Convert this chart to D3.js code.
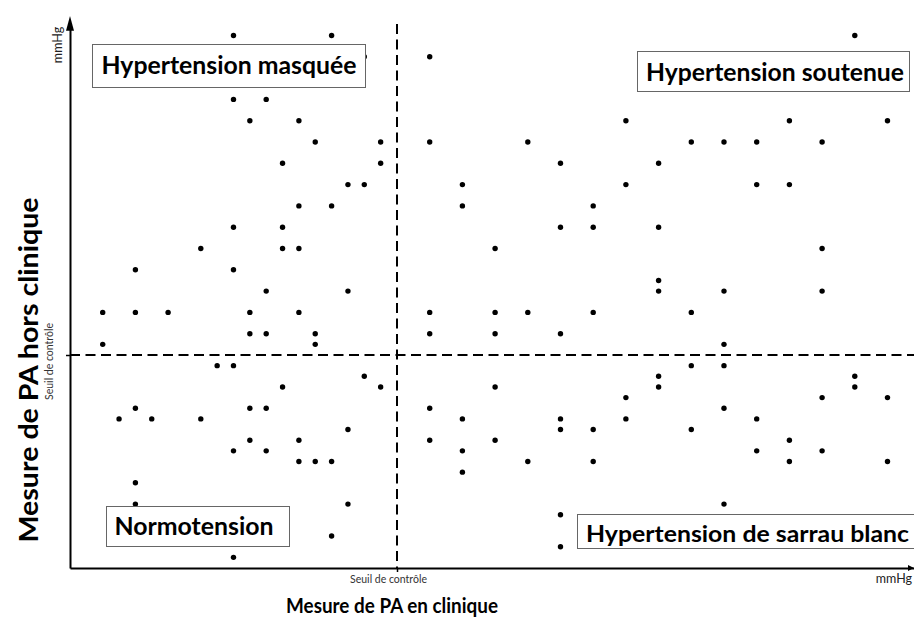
<!DOCTYPE html>
<html>
<head>
<meta charset="utf-8">
<script src="https://cdn.jsdelivr.net/npm/d3@7"></script>
<style>
    body { margin: 0; background: #fff; }
    svg { display: block; }
</style>
</head>
<body>
<div id="chart"></div>
<script>
// grid units: clinic reading (x) and out-of-clinic reading (y)
var clinicValues = [10, 16, 10, 12, 11, 14, 15, 13, 14, 16, 18, 22, 19, 22, 28, 19, 30, 17, 18, 24, 24, 32,
    48, 34, 44, 50, 38, 40, 42, 46, 36, 34, 42, 44,
    10, 13, 8, 13, 14, 4, 10, 12, 2, 4, 6, 11, 14, 11, 12, 15, 2, 15, 9, 10, 13,
    30, 32, 26, 17, 22, 26, 28, 32, 22, 26, 30, 18, 19, 26,
    36, 46, 36, 36, 40, 46, 38, 40, 38, 40, 36, 36, 48, 48,
    4, 11, 12, 3, 5, 8, 11, 14, 10, 12, 14, 15, 16, 4, 4, 16, 10,
    22, 24, 30, 17, 30, 32, 22, 26, 24, 28, 32, 24, 17, 30, 30,
    34, 46, 50, 34, 40, 42, 38, 44, 42, 46, 44, 50, 40];
var homeValues = [30, 30, 24, 24, 22, 22, 20, 18, 14, 14, 28, 28, 20, 20, 20, 18, 18, 16, 16, 16, 14, 14,
    30, 22, 22, 22, 20, 20, 20, 20, 18, 16, 16, 16,
    12, 12, 10, 10, 10, 8, 8, 6, 4, 4, 4, 4, 4, 2, 2, 2, 1, 1, -1, -1, -3,
    12, 12, 10, 6, 4, 4, 4, 4, 2, 2, 2, -2, -3, -3,
    12, 10, 7, 6, 6, 6, 4, 1, -1, -1, -2, -3, -2, -3,
    -5, -5, -5, -6, -6, -6, -8, -8, -9, -9, -10, -10, -10, -12, -14, -17, -19,
    -5, -6, -6, -7, -7, -7, -8, -8, -9, -10, -10, -11, -14, -15, -18,
    -4, -4, -4, -6, -5, -6, -7, -8, -9, -9, -10, -10, -14];

var clinicThreshold = 20;
var homeThreshold = 0;
var xDomain = [0, 52];
var yDomain = [-20, 31];

var quadrantNames = ["Hypertension masquée", "Hypertension soutenue", "Normotension", "Hypertension de sarrau blanc"];
var thresholdLabel = "Seuil de contrôle";
var unitLabel = "mmHg";
var xTitle = "Mesure de PA en clinique";
var yTitle = "Mesure de PA hors clinique";

var width = 914, height = 625;
var left = 70, bottom = 568;

var svg = d3.select("#chart")
    .append("svg")
    .attr("width", width)
    .attr("height", height)
    .style("font-family", "Lato, 'Open Sans', sans-serif");

var x = d3.scaleLinear()
    .domain(xDomain)
    .range([left, left + 52 * 16.35]);

var y = d3.scaleLinear()
    .domain(yDomain)
    .range([bottom, bottom - 51 * 10.65]);

// dashed threshold lines
svg.append("line")
    .attr("x1", x(clinicThreshold)).attr("x2", x(clinicThreshold))
    .attr("y1", 24).attr("y2", bottom)
    .attr("stroke", "#000").attr("stroke-width", 2)
    .attr("stroke-dasharray", "10,5.5");

svg.append("line")
    .attr("x1", left).attr("x2", width)
    .attr("y1", y(homeThreshold)).attr("y2", y(homeThreshold))
    .attr("stroke", "#000").attr("stroke-width", 2)
    .attr("stroke-dasharray", "10,5.5");

// axes
var xAxis = svg.append("g")
    .attr("transform", `translate(0, ${bottom})`)
    .call(d3.axisBottom(x).tickValues([clinicThreshold]).tickFormat(() => thresholdLabel).tickSize(4).tickSizeOuter(0));

xAxis.select(".domain").attr("stroke-width", 2);
xAxis.selectAll(".tick line").attr("stroke-width", 1.5);
xAxis.selectAll(".tick text")
    .attr("y", 8).attr("dx", -9)
    .style("font-family", "Lato, sans-serif")
    .style("font-size", "10.5px").style("fill", "#333");

var yAxis = svg.append("g")
    .attr("transform", `translate(${left}, 0)`)
    .call(d3.axisLeft(y).tickValues([homeThreshold]).tickFormat(() => thresholdLabel).tickSize(4).tickSizeOuter(0));

yAxis.select(".domain").attr("stroke-width", 2);
yAxis.selectAll(".tick line").attr("stroke-width", 1.5);
yAxis.selectAll(".tick text")
    .attr("x", 0).attr("dy", 0)
    .attr("text-anchor", "middle")
    .attr("transform", "translate(-17, 6) rotate(-90)")
    .style("font-family", "Lato, sans-serif")
    .style("font-size", "10.5px").style("fill", "#333");

// arrow heads
svg.append("path")
    .attr("d", `M${left - 4},${y(31) + 6} L${left},${16} L${left + 4},${y(31) + 6} Z`)
    .attr("fill", "#000");
svg.append("path")
    .attr("d", `M${width - 6},${bottom - 3} L${width},${bottom} L${width - 6},${bottom + 3} Z`)
    .attr("fill", "#000");

// unit labels
svg.append("text")
    .attr("x", width - 2).attr("y", 583)
    .attr("text-anchor", "end")
    .style("font-size", "12.5px").style("fill", "#222")
    .text(unitLabel);

svg.append("text")
    .attr("transform", `translate(62, 45) rotate(-90)`)
    .attr("text-anchor", "middle")
    .style("font-size", "12.5px").style("fill", "#222")
    .text(unitLabel);

// axis titles
svg.append("text")
    .attr("x", 392).attr("y", 613)
    .attr("text-anchor", "middle")
    .attr("textLength", 212)
    .attr("lengthAdjust", "spacingAndGlyphs")
    .style("font-size", "20px").style("font-weight", "bold")
    .text(xTitle);

svg.append("text")
    .attr("transform", `translate(38, 370) rotate(-90)`)
    .attr("text-anchor", "middle")
    .attr("textLength", 345)
    .attr("lengthAdjust", "spacingAndGlyphs")
    .style("font-size", "26px").style("font-weight", "bold")
    .text(yTitle);

// dots
var points = clinicValues.map((d, i) => ({clinic: d, home: homeValues[i]}));

svg.append("g")
    .selectAll("circle")
    .data(points)
    .enter().append("circle")
    .attr("cx", d => x(d.clinic))
    .attr("cy", d => y(d.home))
    .attr("r", 2.7)
    .style("fill", "#000");

// quadrant boxes, drawn over the dots
var boxes = [
    {name: quadrantNames[0], x: 92, y: 44, w: 273, h: 43, tx: 101.5, ty: 74, len: 255, size: 24},
    {name: quadrantNames[1], x: 637, y: 51, w: 272, h: 40, tx: 646, ty: 81, len: 258, size: 24},
    {name: quadrantNames[2], x: 106, y: 506, w: 183, h: 40, tx: 114.5, ty: 535, len: 159, size: 24},
    {name: quadrantNames[3], x: 577, y: 514, w: 340, h: 34, tx: 586, ty: 541.5, len: 323, size: 22}
];

boxes.forEach(function (b) {
    svg.append("rect")
        .attr("x", b.x + 0.5).attr("y", b.y + 0.5)
        .attr("width", b.w).attr("height", b.h)
        .attr("fill", "#fff")
        .attr("stroke", "#666")
        .attr("stroke-width", 1);
    svg.append("text")
        .attr("x", b.tx).attr("y", b.ty)
        .attr("textLength", b.len)
        .attr("lengthAdjust", "spacingAndGlyphs")
        .style("font-size", b.size + "px").style("font-weight", "bold")
        .text(b.name);
});
</script>
</body>
</html>
